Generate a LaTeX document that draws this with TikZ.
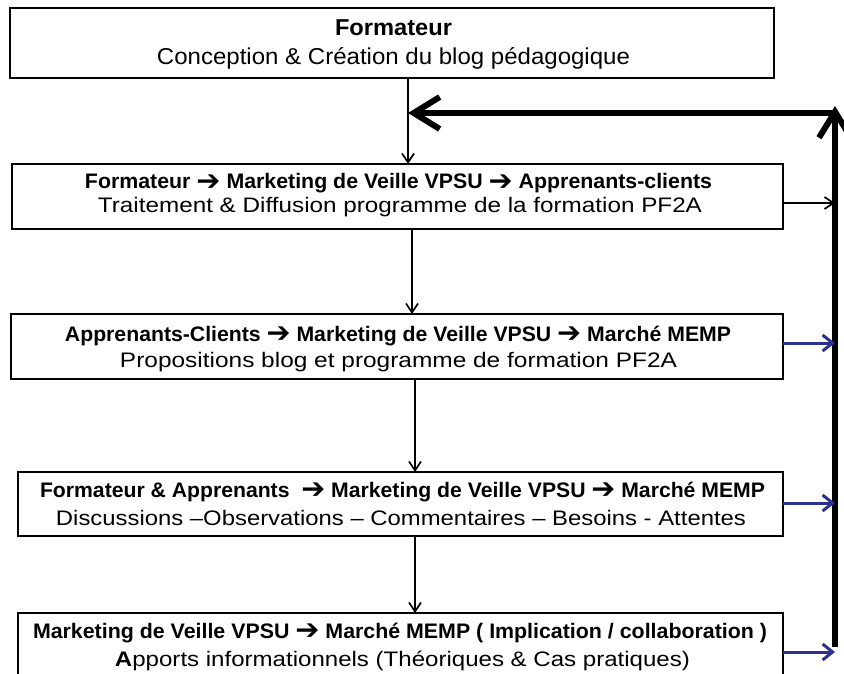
\documentclass[tikz,border=0pt]{standalone}
\usepackage{fontspec}
\setmainfont{Liberation Sans}
\newfontfamily\dv{DejaVu Sans}
\usepackage{graphicx}
\usetikzlibrary{arrows.meta}
\definecolor{navyarrow}{RGB}{46,49,146}
\newcommand\fitline[2]{\resizebox{#1pt}{\height}{#2}}
\newcommand\arr{\raisebox{-0.05em}{\scalebox{1.35}{\dv\bfseries ➔}}}
\begin{document}
\begin{tikzpicture}[x=1pt,y=-1pt,
  box/.style={draw=black, line width=2.5pt, rectangle, inner sep=0pt, outer sep=0pt},
  txt/.style={anchor=base, inner sep=0pt, outer sep=0pt},
  flow/.style={draw=black, line width=1.7pt, -{Straight Barb[length=9pt,width=12pt]}},
  feed/.style={draw=navyarrow, line width=3pt, -{Straight Barb[length=10pt,width=16pt]}},
  bus/.style={draw=black, line width=6pt, -{Straight Barb[length=26pt,width=32pt]}}]
\useasboundingbox (0,0) rectangle (844,674);
\fill[white] (0,0) rectangle (844,674);
\clip (0,0) rectangle (844,674);

% boxes
\node[box, minimum width=764pt, minimum height=70pt] (b1) at (392,43) {};
\node[box, minimum width=771pt, minimum height=65pt] (b2) at (397.5,196.5) {};
\node[box, minimum width=772pt, minimum height=65pt] (b3) at (397,346.5) {};
\node[box, minimum width=765pt, minimum height=64pt] (b4) at (400.5,504) {};
\node[box, minimum width=765pt, minimum height=80pt] (b5) at (400.5,653) {};

% texts
\node[txt, font=\fontsize{23}{27}\selectfont\bfseries] (t1a) at (393.5,36) {\fitline{117}{Formateur}};
\node[txt, font=\fontsize{23}{27}\selectfont] (t1b) at (393.5,65) {\fitline{473}{Conception \& Création du blog pédagogique}};

\node[txt, font=\fontsize{21}{25}\selectfont\bfseries] (t2a) at (398.5,189) {\fitline{627}{Formateur \arr{} Marketing de Veille VPSU \arr{} Apprenants-clients}};
\node[txt, font=\fontsize{21}{25}\selectfont] (t2b) at (400,213) {\fitline{604}{Traitement \& Diffusion  programme de la formation PF2A}};

\node[txt, font=\fontsize{21}{25}\selectfont\bfseries] (t3a) at (398,341) {\fitline{666}{Apprenants-Clients \arr{} Marketing de Veille VPSU \arr{} Marché MEMP}};
\node[txt, font=\fontsize{21}{25}\selectfont] (t3b) at (398.5,367) {\fitline{557}{Propositions  blog et programme de formation PF2A}};

\node[txt, font=\fontsize{21}{25}\selectfont\bfseries] (t4a) at (402.5,497) {\fitline{725}{Formateur \& Apprenants \ \arr{} Marketing de Veille VPSU \arr{} Marché MEMP}};
\node[txt, font=\fontsize{21}{25}\selectfont] (t4b) at (401,525) {\fitline{690}{Discussions –Observations – Commentaires – Besoins - Attentes}};

\node[txt, font=\fontsize{21}{25}\selectfont\bfseries] (t5a) at (400,638) {\fitline{734}{Marketing de Veille VPSU \arr{} Marché MEMP ( Implication / collaboration )}};
\node[txt, font=\fontsize{21}{25}\selectfont] (t5b) at (402.5,666) {\fitline{575}{{\bfseries A}pports informationnels (Théoriques \& Cas pratiques)}};

% helper coordinates
\coordinate (busB) at (835,647);
\coordinate (busT) at (835,106);
\coordinate (fb) at (408,113);
\coordinate (x2) at (412,0);
\coordinate (x3) at (415,0);
\coordinate (h2) at (0,203);
\coordinate (h3) at (0,343);
\coordinate (h4) at (0,503);
\coordinate (h5) at (0,652);
\coordinate (corner) at (838,113);

% feedback bus
\draw[bus] (busB) -- (busT);
\draw[bus] (corner) -- (fb);

% main flow
\draw[flow] (b1.south -| fb) -- (b2.north -| fb);
\draw[flow] (b2.south -| x2) -- (b3.north -| x2);
\draw[flow] (b3.south -| x3) -- (b4.north -| x3);
\draw[flow] (b4.south -| x3) -- (b5.north -| x3);

% side arrows
\draw[flow] (b2.east |- h2) -- (busB |- h2);
\draw[feed] (b3.east |- h3) -- (busB |- h3);
\draw[feed] (b4.east |- h4) -- (busB |- h4);
\draw[feed] (b5.east |- h5) -- (busB |- h5);
\end{tikzpicture}
\end{document}
